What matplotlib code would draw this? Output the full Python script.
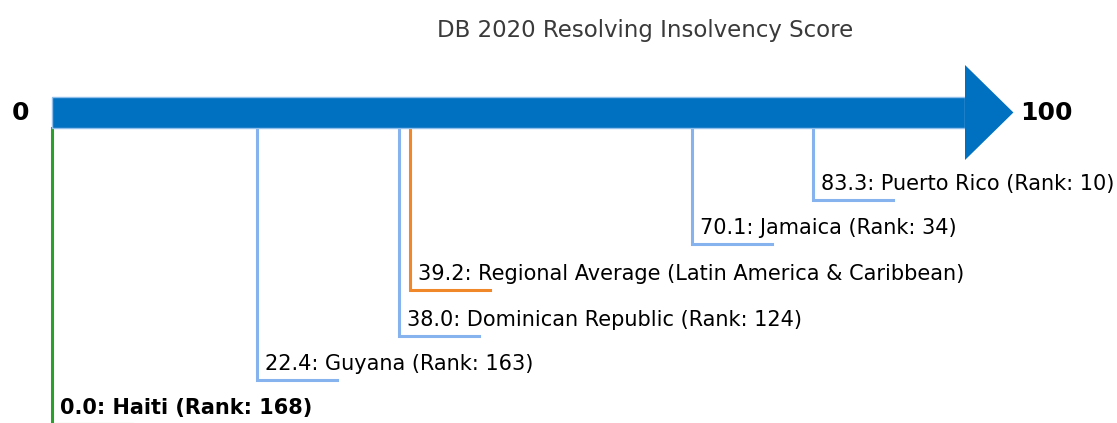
import matplotlib.pyplot as plt
from matplotlib.patches import Rectangle, Polygon

# scores on the 0-100 scale
countries = ["Haiti", "Guyana", "Dominican Republic", "Regional Average (Latin America & Caribbean)",
             "Jamaica", "Puerto Rico"]
scores = [0.0, 22.4, 38.0, 39.2, 70.1, 83.3]
ranks = [168, 163, 124, None, 34, 10]
kinds = ["focus", "peer", "peer", "average", "peer", "peer"]

title = "DB 2020 Resolving Insolvency Score"

# vertical position (pixels from top) of each label row
rows = [424, 380, 336, 290, 244, 200]

colors = {"focus": "#2ca02c", "peer": "#86b3ee", "average": "#f0882a"}

W, H = 1117, 423
fig = plt.figure(figsize=(W / 100, H / 100), dpi=100)
ax = fig.add_axes([0, 0, 1, 1])

# x: score units, 0 at px 52, 9.13 px per point; y: pixels from top
ppu = 9.13
x0 = -52 / ppu
ax.set_xlim(x0, x0 + W / ppu)
ax.set_ylim(H, 0)
ax.axis("off")

# arrow: shaft 0..100 and a triangular head
shaft_top, shaft_bot = 97, 128
ax.add_patch(Rectangle((0, shaft_top), 100, shaft_bot - shaft_top,
                       facecolor="#0070c0", edgecolor="#8fbfea", lw=1, zorder=3))
ax.add_patch(Polygon([(100, 65), (100, 160), (105.3, 112.5)], closed=True,
                     facecolor="#0070c0", edgecolor="none", zorder=3))

ax.text(-3.5, 112.5, "0", fontsize=18, fontweight="bold", ha="center", va="center")
ax.text(106.0, 112.5, "100", fontsize=18, fontweight="bold", ha="left", va="center")

ax.text((645 - 52) / ppu, 30, title, fontsize=16.5, color="#3a3a3a", ha="center", va="center")

seg = 80 / ppu
for name, score, rank, kind, y in zip(countries, scores, ranks, kinds, rows):
    c = colors[kind]
    ax.plot([score, score, score + seg], [shaft_bot, y, y], color=c, lw=2.2,
            solid_joinstyle="miter", zorder=2)
    if rank is None:
        label = f"{score:.1f}: {name}"
    else:
        label = f"{score:.1f}: {name} (Rank: {rank})"
    ax.text(score + 8 / ppu, y - 16, label, fontsize=15, ha="left", va="center",
            fontweight="bold" if kind == "focus" else "normal")

fig.savefig("out.png", dpi=100)
